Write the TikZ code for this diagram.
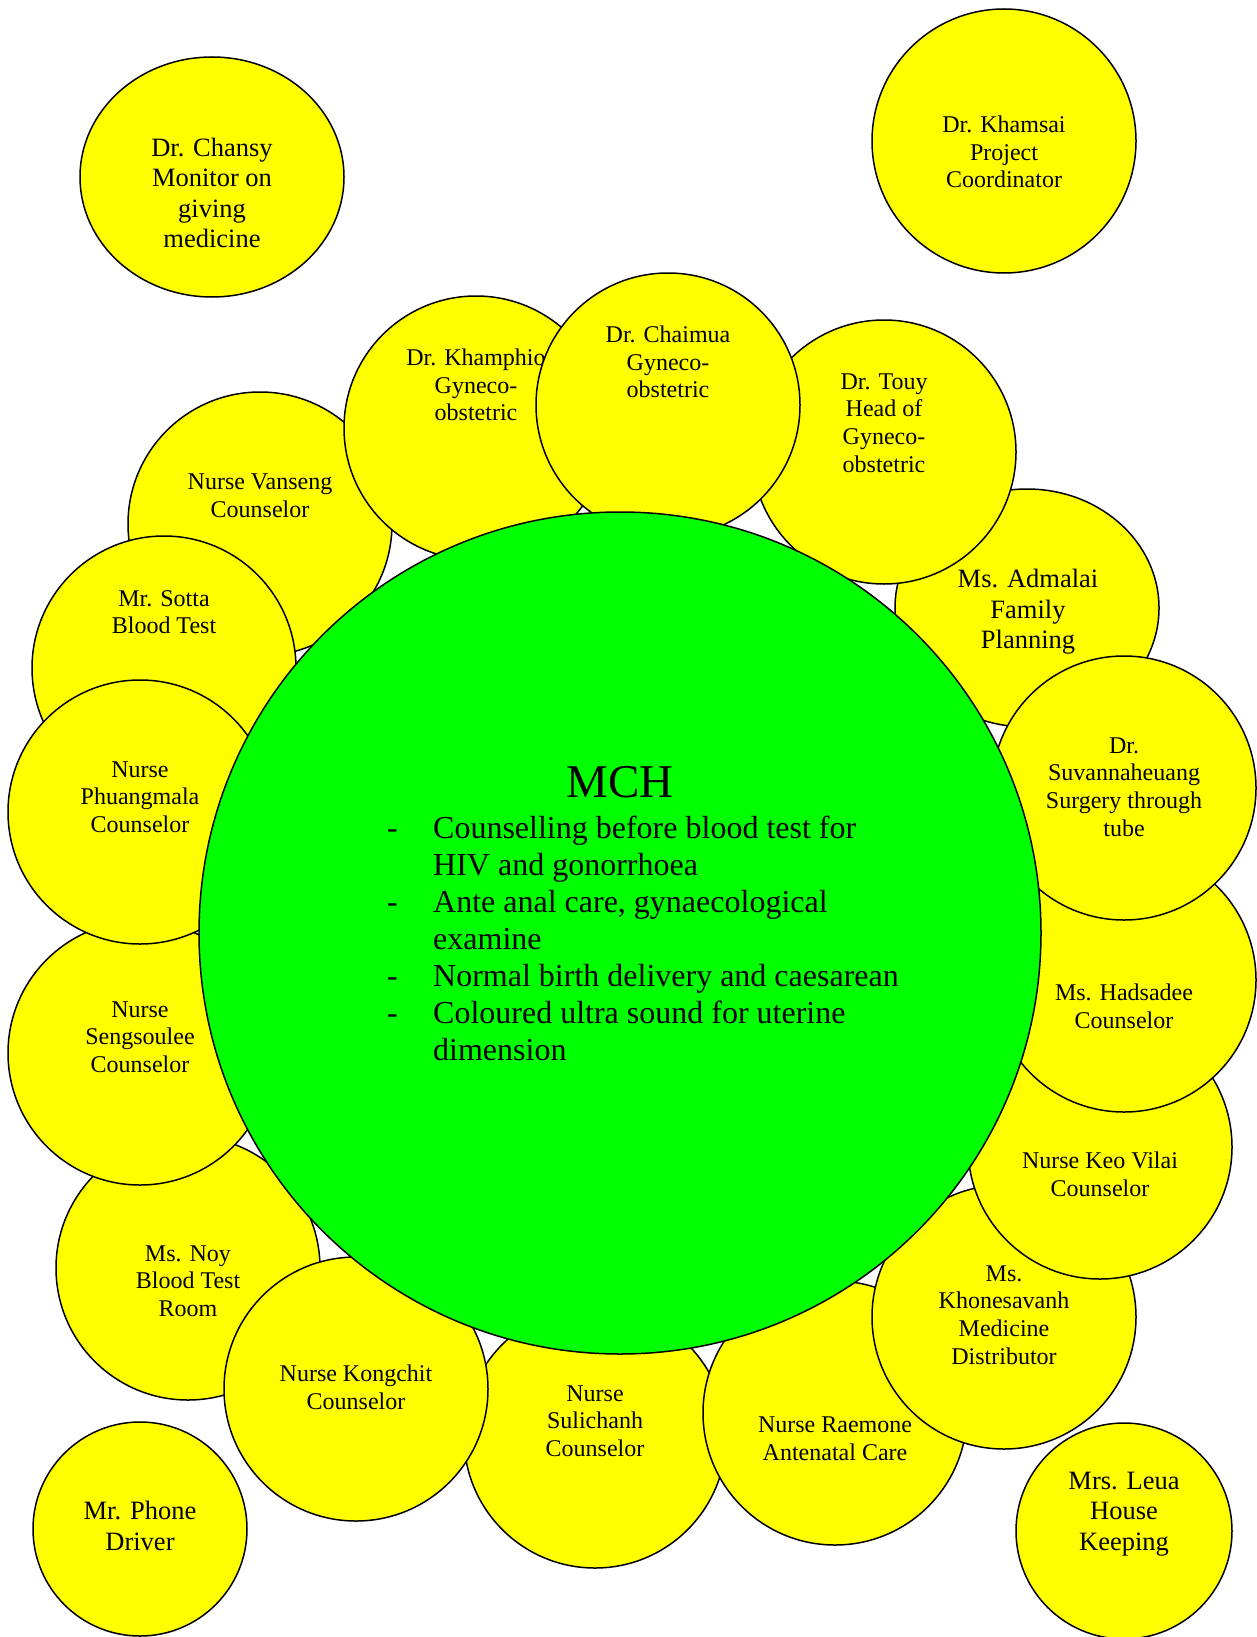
\documentclass[tikz,border=0pt]{standalone}
\usepackage{fontspec}
\setmainfont{Liberation Serif}
\usepackage{array}
\definecolor{staffyellow}{RGB}{255,255,0}
\definecolor{mchgreen}{RGB}{0,255,0}
\tikzset{staff/.style={draw=black,line width=1.5pt,fill=staffyellow}}
\tikzset{mchdisc/.style={draw=black,line width=1.5pt,fill=mchgreen}}

\begin{document}
\begin{tikzpicture}[x=1pt,y=-1pt]
\useasboundingbox (0,0) rectangle (1257,1637);
% staff around the unit, drawn back to front
\foreach \nm/\cx/\cy/\rx/\ry/\tx/\ty/\fs/\bs/\txt in {
vanseng/260/524/132/132/260/496/24/27.6/{Nurse Vanseng\\Counselor},
sotta/164/668/132/132/164/612/24/27.6/{Mr. Sotta\\Blood Test},
noy/188/1268/132/132/188/1281/24/27.6/{Ms. Noy\\Blood Test\\Room},
sengsoulee/140/1053/132/132/140/1037/24/27.6/{Nurse\\Sengsoulee\\Counselor},
phuangmala/140/812/132/132/140/797/24/27.6/{Nurse\\Phuangmala\\Counselor},
sulichanh/595/1437/131/131/595/1421/24/27.6/{Nurse\\Sulichanh\\Counselor},
kongchit/356/1389/132/132/356/1387/24/27.6/{Nurse Kongchit\\Counselor},
raemone/835/1413/132/132/835/1439/24/27.6/{Nurse Raemone\\Antenatal Care},
khonesavanh/1004/1317/132/132/1004/1315/24/27.6/{Ms.\\Khonesavanh\\Medicine\\Distributor},
keovilai/1100/1147/132/132/1100/1174/24/27.6/{Nurse Keo Vilai\\Counselor},
hadsadee/1124/980/132/132/1124/1006/24/27.6/{Ms. Hadsadee\\Counselor},
admalai/1027/608/132/119/1028/612/26.5/30.5/{Ms. Admalai\\Family\\Planning},
suvannaheuang/1124/788/132/132/1124/787/24/27.6/{Dr.\\Suvannaheuang\\Surgery through\\tube},
khamphio/476/428/132/132/476/385/24/27.6/{Dr. Khamphio\\Gyneco-\\obstetric},
touy/884/452/132/132/884/423/24/27.6/{Dr. Touy\\Head of\\Gyneco-\\obstetric},
chaimua/668/405/132/132/668/362/24/27.6/{Dr. Chaimua\\Gyneco-\\obstetric},
chansy/212/177/132/120/212/193/26.5/30.5/{Dr. Chansy\\Monitor on\\giving\\medicine},
khamsai/1004/141/132/132/1004/152/24/27.6/{Dr. Khamsai\\Project\\Coordinator},
phone/140/1529/107/107/140/1526/26.5/30.5/{Mr. Phone\\Driver},
leua/1124/1531/108/108/1124/1514/26.5/30.5/{Mrs. Leua\\House\\Keeping}}{
\draw[staff] (\cx,\cy) ellipse [x radius=\rx pt, y radius=\ry pt];
\node[align=center,inner sep=0pt,font=\fontsize{\fs}{\bs}\selectfont] (\nm) at (\tx,\ty) {\txt};
}
% the unit itself
\draw[mchdisc] (620,933) circle [radius=421pt];
\node[anchor=base,inner sep=0pt,font=\fontsize{47}{54}\selectfont] (mchtitle) at (620,797) {MCH};
\node[anchor=base west,inner sep=0pt,font=\fontsize{32}{37}\selectfont] (mchlist) at (387,838) {%
\begin{tabular}[t]{@{}p{46pt}@{}l@{}}
-&Counselling before blood test for\\
 &HIV and gonorrhoea\\
-&Ante anal care, gynaecological\\
 &examine\\
-&Normal birth delivery and caesarean\\
-&Coloured ultra sound for uterine\\
 &dimension
\end{tabular}};
\end{tikzpicture}
\end{document}
